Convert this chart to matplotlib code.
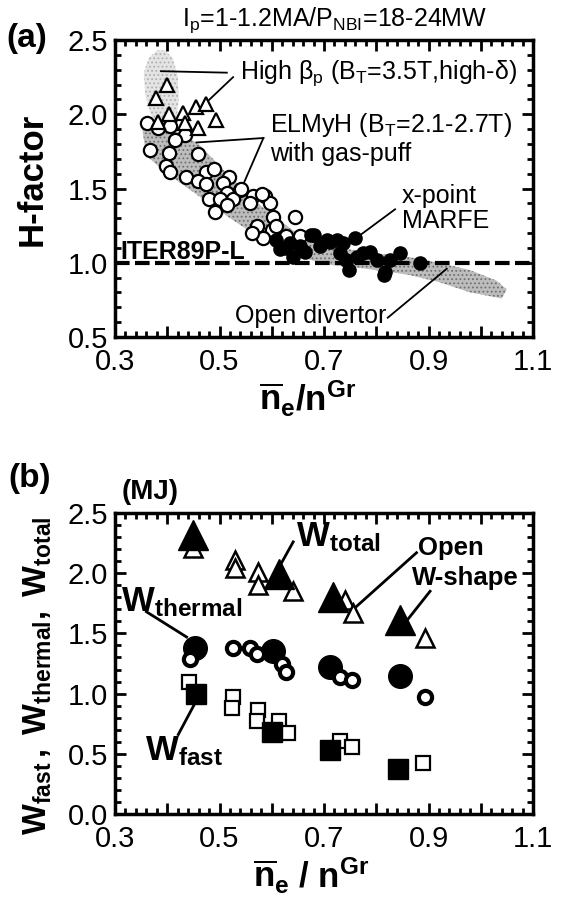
import matplotlib
matplotlib.use("Agg")
import matplotlib.pyplot as plt
from matplotlib.ticker import MultipleLocator

plt.rcParams['font.family'] = ['Liberation Sans', 'DejaVu Sans']
plt.rcParams['mathtext.fontset'] = 'custom'
plt.rcParams['mathtext.rm'] = 'Liberation Sans'
plt.rcParams['mathtext.bf'] = 'Liberation Sans:bold'
plt.rcParams['mathtext.it'] = 'Liberation Sans:italic'
plt.rcParams['hatch.linewidth'] = 0.8

# ---------------- panel (a) data ----------------
hp_tri_x = [0.399, 0.378, 0.403, 0.430, 0.455, 0.475, 0.493, 0.459, 0.434, 0.382]
hp_tri_y = [2.20, 2.11, 2.00, 2.01, 2.05, 2.07, 1.96, 1.91, 1.94, 1.95]

elm_x = [0.361, 0.383, 0.405, 0.433, 0.414, 0.366, 0.404, 0.459, 0.398, 0.405,
         0.435, 0.475, 0.490, 0.519, 0.458, 0.474, 0.506, 0.539, 0.514, 0.479,
         0.501, 0.526, 0.565, 0.587, 0.558, 0.597, 0.542, 0.581, 0.571, 0.603,
         0.600, 0.644, 0.584, 0.613, 0.654, 0.491, 0.514, 0.609, 0.562, 0.628]
elm_y = [1.94, 1.905, 1.92, 1.86, 1.83, 1.76, 1.74, 1.73, 1.65, 1.61,
         1.58, 1.61, 1.63, 1.58, 1.55, 1.53, 1.54, 1.49, 1.47, 1.43,
         1.43, 1.43, 1.45, 1.45, 1.40, 1.40, 1.50, 1.46, 1.245, 1.31,
         1.22, 1.31, 1.17, 1.155, 1.18, 1.34, 1.39, 1.245, 1.20, 1.18]

marfe_x = [0.609, 0.628, 0.641, 0.654, 0.680, 0.692, 0.705, 0.724, 0.737, 0.731,
           0.743, 0.747, 0.759, 0.763, 0.788, 0.814, 0.826, 0.845, 0.884, 0.616,
           0.635, 0.676, 0.711, 0.664, 0.775, 0.801, 0.817]
marfe_y = [1.155, 1.10, 1.04, 1.11, 1.19, 1.11, 1.155, 1.155, 1.13, 1.065,
           1.02, 0.95, 1.17, 1.04, 1.075, 0.92, 1.02, 1.065, 1.00, 1.09,
           1.13, 1.19, 1.14, 1.075, 1.065, 1.02, 0.94]

# shaded regions (outline vertices)
hp_band_x = [0.355, 0.365, 0.380, 0.395, 0.410, 0.420, 0.422, 0.418, 0.405, 0.385, 0.368, 0.358]
hp_band_y = [2.28, 2.38, 2.43, 2.43, 2.38, 2.26, 2.10, 1.98, 1.93, 1.93, 2.00, 2.13]

db_band_x = [0.350, 0.400, 0.460, 0.520, 0.580, 0.640, 0.700, 0.780, 0.860, 0.920, 0.980, 1.030, 1.050,
             1.040, 0.980, 0.920, 0.860, 0.780, 0.700, 0.640, 0.580, 0.520, 0.460, 0.400, 0.360]
db_band_y = [1.95, 1.92, 1.80, 1.58, 1.38, 1.22, 1.12, 1.07, 1.04, 1.00, 0.95, 0.88, 0.82,
             0.76, 0.80, 0.87, 0.92, 0.96, 0.99, 1.06, 1.16, 1.30, 1.45, 1.60, 1.72]

# ---------------- panel (b) data ----------------
tot_w_x = [0.450, 0.613, 0.718, 0.845]
tot_w_y = [2.32, 1.99, 1.80, 1.61]
tot_o_x = [0.450, 0.530, 0.530, 0.574, 0.574, 0.641, 0.740, 0.756, 0.893]
tot_o_y = [2.21, 2.11, 2.04, 2.01, 1.90, 1.85, 1.78, 1.67, 1.46]

th_w_x = [0.453, 0.603, 0.711, 0.845]
th_w_y = [1.38, 1.35, 1.22, 1.15]
th_o_x = [0.444, 0.526, 0.558, 0.571, 0.619, 0.628, 0.730, 0.753, 0.893]
th_o_y = [1.29, 1.38, 1.38, 1.33, 1.25, 1.18, 1.14, 1.11, 0.97]

fa_w_x = [0.455, 0.600, 0.711, 0.842]
fa_w_y = [1.00, 0.68, 0.53, 0.37]
fa_o_x = [0.442, 0.525, 0.523, 0.574, 0.571, 0.613, 0.632, 0.730, 0.753, 0.890]
fa_o_y = [1.10, 0.97, 0.88, 0.86, 0.77, 0.77, 0.67, 0.61, 0.56, 0.42]

x_ticks = [0.3, 0.4, 0.5, 0.6, 0.7, 0.8, 0.9, 1.0, 1.1]
x_ticklabels = ["0.3", "", "0.5", "", "0.7", "", "0.9", "", "1.1"]
ya_ticks = [0.5, 1.0, 1.5, 2.0, 2.5]
yb_ticks = [0.0, 0.5, 1.0, 1.5, 2.0, 2.5]

fig = plt.figure(figsize=(5.7, 8.97), dpi=100)
ax1 = fig.add_axes([0.2018, 0.6243, 0.7333, 0.3311])
ax2 = fig.add_axes([0.2018, 0.0925, 0.7333, 0.3356])


def style(ax, yt):
    ax.set_xlim(0.3, 1.1)
    ax.set_xticks(x_ticks, x_ticklabels)
    ax.set_yticks(yt, [f"{v:.1f}" for v in yt])
    ax.xaxis.set_minor_locator(MultipleLocator(0.02))
    ax.yaxis.set_minor_locator(MultipleLocator(0.1))
    ax.tick_params(which='both', direction='in', top=True, right=True, width=2, labelsize=21)
    ax.tick_params(which='major', length=8)
    ax.tick_params(which='minor', length=4)
    ax.tick_params(axis='x', pad=8)
    ax.tick_params(axis='y', pad=5)
    for s in ax.spines.values():
        s.set_linewidth(2.5)


FS = 18

# ----- panel (a) -----
ax = ax1
ax.fill(hp_band_x, hp_band_y, facecolor='#e4e4e4', edgecolor='#b0b0b0', hatch='....', lw=0, zorder=1)
ax.fill(db_band_x, db_band_y, facecolor='#bdbdbd', edgecolor='#707070', hatch='....', lw=0, zorder=1)
ax.axhline(1.0, color='black', lw=3, ls=(0, (3.5, 1.3)), zorder=2)
ax.plot(elm_x, elm_y, 'o', ms=9.5, mfc='white', mec='black', mew=1.6, zorder=3)
ax.plot(marfe_x, marfe_y, 'o', ms=9.5, mfc='black', mec='black', zorder=4)
ax.plot(hp_tri_x, hp_tri_y, '^', ms=10.5, mfc='white', mec='black', mew=1.6, zorder=4)
style(ax, ya_ticks)
ax.set_ylim(0.5, 2.5)
ax.set_ylabel("H-factor", fontsize=25, fontweight='bold')
ax.yaxis.set_label_coords(-0.16, 0.53)
ax.set_xlabel(r"$\mathbf{\overline{n}_e/n^{Gr}}$", fontsize=25)
ax.xaxis.set_label_coords(0.46, -0.14)

ax.text(0.54, 2.28, "High β$_\\mathregular{p}$ (B$_\\mathregular{T}$=3.5T,high-δ)",
        fontsize=FS, va='center', ha='left')
ax.plot([0.388, 0.514], [2.29, 2.28], color='black', lw=1.3)
ax.plot([0.526, 0.472], [2.25, 2.07], color='black', lw=1.3)

ax.text(0.597, 1.93, "ELMyH (B$_\\mathregular{T}$=2.1-2.7T)", fontsize=FS, va='center', ha='left')
ax.text(0.597, 1.73, "with gas-puff", fontsize=FS, va='center', ha='left')
ax.plot([0.584, 0.456], [1.84, 1.81], color='black', lw=1.3)
ax.plot([0.584, 0.542], [1.84, 1.50], color='black', lw=1.3)

ax.text(0.849, 1.45, "x-point", fontsize=FS, va='center', ha='left')
ax.text(0.849, 1.28, "MARFE", fontsize=FS, va='center', ha='left')
ax.plot([0.836, 0.763], [1.36, 1.17], color='black', lw=1.3)

ax.text(0.31, 1.075, "ITER89P-L", fontsize=FS, fontweight='bold', va='center', ha='left')

ax.text(0.53, 0.64, "Open divertor", fontsize=FS, va='center', ha='left')
ax.plot([0.822, 0.935], [0.63, 0.96], color='black', lw=1.3)

# ----- panel (b) -----
ax = ax2
ax.plot(tot_o_x, tot_o_y, '^', ms=13, mfc='white', mec='black', mew=1.8, zorder=3)
ax.plot(tot_w_x, tot_w_y, '^', ms=21, mfc='black', mec='black', zorder=4)
ax.plot(th_w_x, th_w_y, 'o', ms=17, mfc='black', mec='black', zorder=3)
ax.plot(th_o_x, th_o_y, 'o', ms=9.5, mfc='white', mec='black', mew=3, zorder=4)
ax.plot(fa_o_x, fa_o_y, 's', ms=10, mfc='white', mec='black', mew=1.6, zorder=3)
ax.plot(fa_w_x, fa_w_y, 's', ms=15, mfc='black', mec='black', zorder=4)
style(ax, yb_ticks)
ax.set_ylim(0.0, 2.5)
ax.set_ylabel(r"$\mathbf{W_{fast}\,,\ W_{thermal},\ W_{total}}$", fontsize=23.5)
ax.yaxis.set_label_coords(-0.145, 0.46)
ax.set_xlabel(r"$\mathbf{\overline{n}_e\ /\ n^{Gr}}$", fontsize=25)
ax.xaxis.set_label_coords(0.47, -0.14)

ax.text(0.647, 2.30, r"$\mathbf{W_{total}}$", fontsize=25, va='center', ha='left')
ax.plot([0.641, 0.609], [2.26, 2.01], color='black', lw=2)

ax.text(0.312, 1.76, r"$\mathbf{W_{thermal}}$", fontsize=25, va='center', ha='left')
ax.plot([0.36, 0.437], [1.68, 1.47], color='black', lw=2)

ax.text(0.88, 2.21, "Open", fontsize=18.5, fontweight='bold', va='center', ha='left')
ax.text(0.868, 1.96, "W-shape", fontsize=18.5, fontweight='bold', va='center', ha='left')
ax.plot([0.877, 0.756], [2.17, 1.70], color='black', lw=2)
ax.plot([0.903, 0.861], [1.85, 1.62], color='black', lw=2)

ax.text(0.358, 0.52, r"$\mathbf{W_{fast}}$", fontsize=25, va='center', ha='left')
ax.plot([0.421, 0.453], [0.66, 0.92], color='black', lw=2)

# figure-level labels
fig.text(6 / 570, 1 - 38 / 897, "(a)", fontsize=24, fontweight='bold', va='center', ha='left')
fig.text(335 / 570, 1 - 20 / 897, r"I$_\mathregular{p}$=1-1.2MA/P$_\mathregular{NBI}$=18-24MW",
         fontsize=18, va='center', ha='center')
fig.text(8 / 570, 1 - 478 / 897, "(b)", fontsize=24, fontweight='bold', va='center', ha='left')
fig.text(122 / 570, 1 - 492 / 897, "(MJ)", fontsize=20, fontweight='bold', va='center', ha='left')

fig.savefig("out.png", dpi=100)
